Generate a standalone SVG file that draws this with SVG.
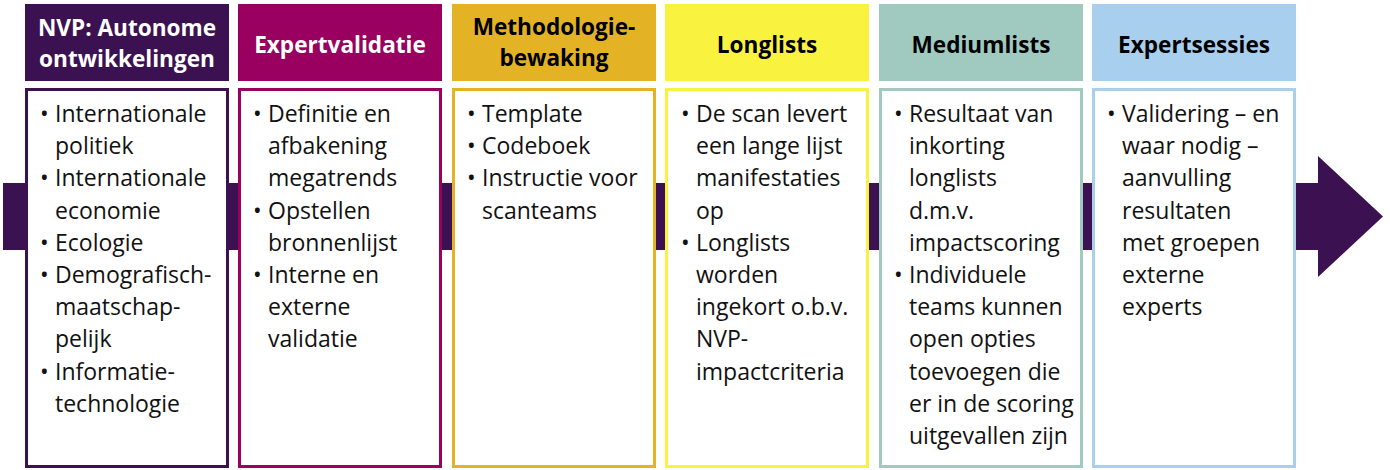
<svg xmlns="http://www.w3.org/2000/svg" width="1390" height="470" viewBox="0 0 1390 470">
<style>
.hd{font-family:"Open Sans","Noto Sans","Liberation Sans",sans-serif;font-weight:700;font-size:22.6px;text-anchor:middle}
.bd{font-family:"Open Sans","Noto Sans","Liberation Sans",sans-serif;font-size:23px;fill:#111}
.box{fill:#fff;stroke-width:3}
</style>
<rect width="1390" height="470" fill="#fff"/>
<g id="connectors">
<path d="M3 183 H1318 V156 L1383 216.5 L1318 277 V250 H3 Z" fill="#3c1152"/>
</g>
<g id="col1">
<rect x="25" y="4" width="204" height="77" fill="#3c1152"/>
<text class="hd" fill="#fff"><tspan x="127" y="36">NVP: Autonome</tspan><tspan x="127" y="67">ontwikkelingen</tspan></text>
<rect class="box" x="26.5" y="89.5" width="201" height="377" stroke="#3c1152"/>
<text class="bd"><tspan x="40" y="122">•</tspan><tspan x="55" y="122">Internationale</tspan><tspan x="55" y="154.2">politiek</tspan><tspan x="40" y="186.4">•</tspan><tspan x="55" y="186.4">Internationale</tspan><tspan x="55" y="218.6">economie</tspan><tspan x="40" y="250.8">•</tspan><tspan x="55" y="250.8">Ecologie</tspan><tspan x="40" y="283">•</tspan><tspan x="55" y="283">Demografisch-</tspan><tspan x="55" y="315.2">maatschap-</tspan><tspan x="55" y="347.4">pelijk</tspan><tspan x="40" y="379.6">•</tspan><tspan x="55" y="379.6">Informatie-</tspan><tspan x="55" y="411.8">technologie</tspan></text>
</g>
<g id="col2">
<rect x="238" y="4" width="204" height="77" fill="#990060"/>
<text class="hd" fill="#fff"><tspan x="340" y="53">Expertvalidatie</tspan></text>
<rect class="box" x="239.5" y="89.5" width="201" height="377" stroke="#990060"/>
<text class="bd"><tspan x="253" y="122">•</tspan><tspan x="268" y="122">Definitie en</tspan><tspan x="268" y="154.2">afbakening</tspan><tspan x="268" y="186.4">megatrends</tspan><tspan x="253" y="218.6">•</tspan><tspan x="268" y="218.6">Opstellen</tspan><tspan x="268" y="250.8">bronnenlijst</tspan><tspan x="253" y="283">•</tspan><tspan x="268" y="283">Interne en</tspan><tspan x="268" y="315.2">externe</tspan><tspan x="268" y="347.4">validatie</tspan></text>
</g>
<g id="col3">
<rect x="452" y="4" width="204" height="77" fill="#e3b325"/>
<text class="hd" fill="#000"><tspan x="554" y="35">Methodologie-</tspan><tspan x="554" y="66">bewaking</tspan></text>
<rect class="box" x="453.5" y="89.5" width="201" height="377" stroke="#e3b325"/>
<text class="bd"><tspan x="467" y="122">•</tspan><tspan x="482" y="122">Template</tspan><tspan x="467" y="154.2">•</tspan><tspan x="482" y="154.2">Codeboek</tspan><tspan x="467" y="186.4">•</tspan><tspan x="482" y="186.4">Instructie voor</tspan><tspan x="482" y="218.6">scanteams</tspan></text>
</g>
<g id="col4">
<rect x="665" y="4" width="204" height="77" fill="#f9f33f"/>
<text class="hd" fill="#000"><tspan x="767" y="53">Longlists</tspan></text>
<rect class="box" x="666.5" y="89.5" width="201" height="377" stroke="#f9f33f"/>
<text class="bd"><tspan x="681" y="122">•</tspan><tspan x="696" y="122">De scan levert</tspan><tspan x="696" y="154.2">een lange lijst</tspan><tspan x="696" y="186.4">manifestaties</tspan><tspan x="696" y="218.6">op</tspan><tspan x="681" y="250.8">•</tspan><tspan x="696" y="250.8">Longlists</tspan><tspan x="696" y="283">worden</tspan><tspan x="696" y="315.2">ingekort o.b.v.</tspan><tspan x="696" y="347.4">NVP-</tspan><tspan x="696" y="379.6">impactcriteria</tspan></text>
</g>
<g id="col5">
<rect x="879" y="4" width="204" height="77" fill="#a0cac0"/>
<text class="hd" fill="#000"><tspan x="981" y="53">Mediumlists</tspan></text>
<rect class="box" x="880.5" y="89.5" width="201" height="377" stroke="#a0cac0"/>
<text class="bd"><tspan x="894" y="122">•</tspan><tspan x="909" y="122">Resultaat van</tspan><tspan x="909" y="154.2">inkorting</tspan><tspan x="909" y="186.4">longlists</tspan><tspan x="909" y="218.6">d.m.v.</tspan><tspan x="909" y="250.8">impactscoring</tspan><tspan x="894" y="283">•</tspan><tspan x="909" y="283">Individuele</tspan><tspan x="909" y="315.2">teams kunnen</tspan><tspan x="909" y="347.4">open opties</tspan><tspan x="909" y="379.6">toevoegen die</tspan><tspan x="909" y="411.8">er in de scoring</tspan><tspan x="909" y="444">uitgevallen zijn</tspan></text>
</g>
<g id="col6">
<rect x="1092" y="4" width="204" height="77" fill="#a9cfef"/>
<text class="hd" fill="#000"><tspan x="1194" y="53">Expertsessies</tspan></text>
<rect class="box" x="1093.5" y="89.5" width="201" height="377" stroke="#a9cfef"/>
<text class="bd"><tspan x="1107" y="122">•</tspan><tspan x="1122" y="122">Validering – en</tspan><tspan x="1122" y="154.2">waar nodig –</tspan><tspan x="1122" y="186.4">aanvulling</tspan><tspan x="1122" y="218.6">resultaten</tspan><tspan x="1122" y="250.8">met groepen</tspan><tspan x="1122" y="283">externe</tspan><tspan x="1122" y="315.2">experts</tspan></text>
</g>
</svg>
